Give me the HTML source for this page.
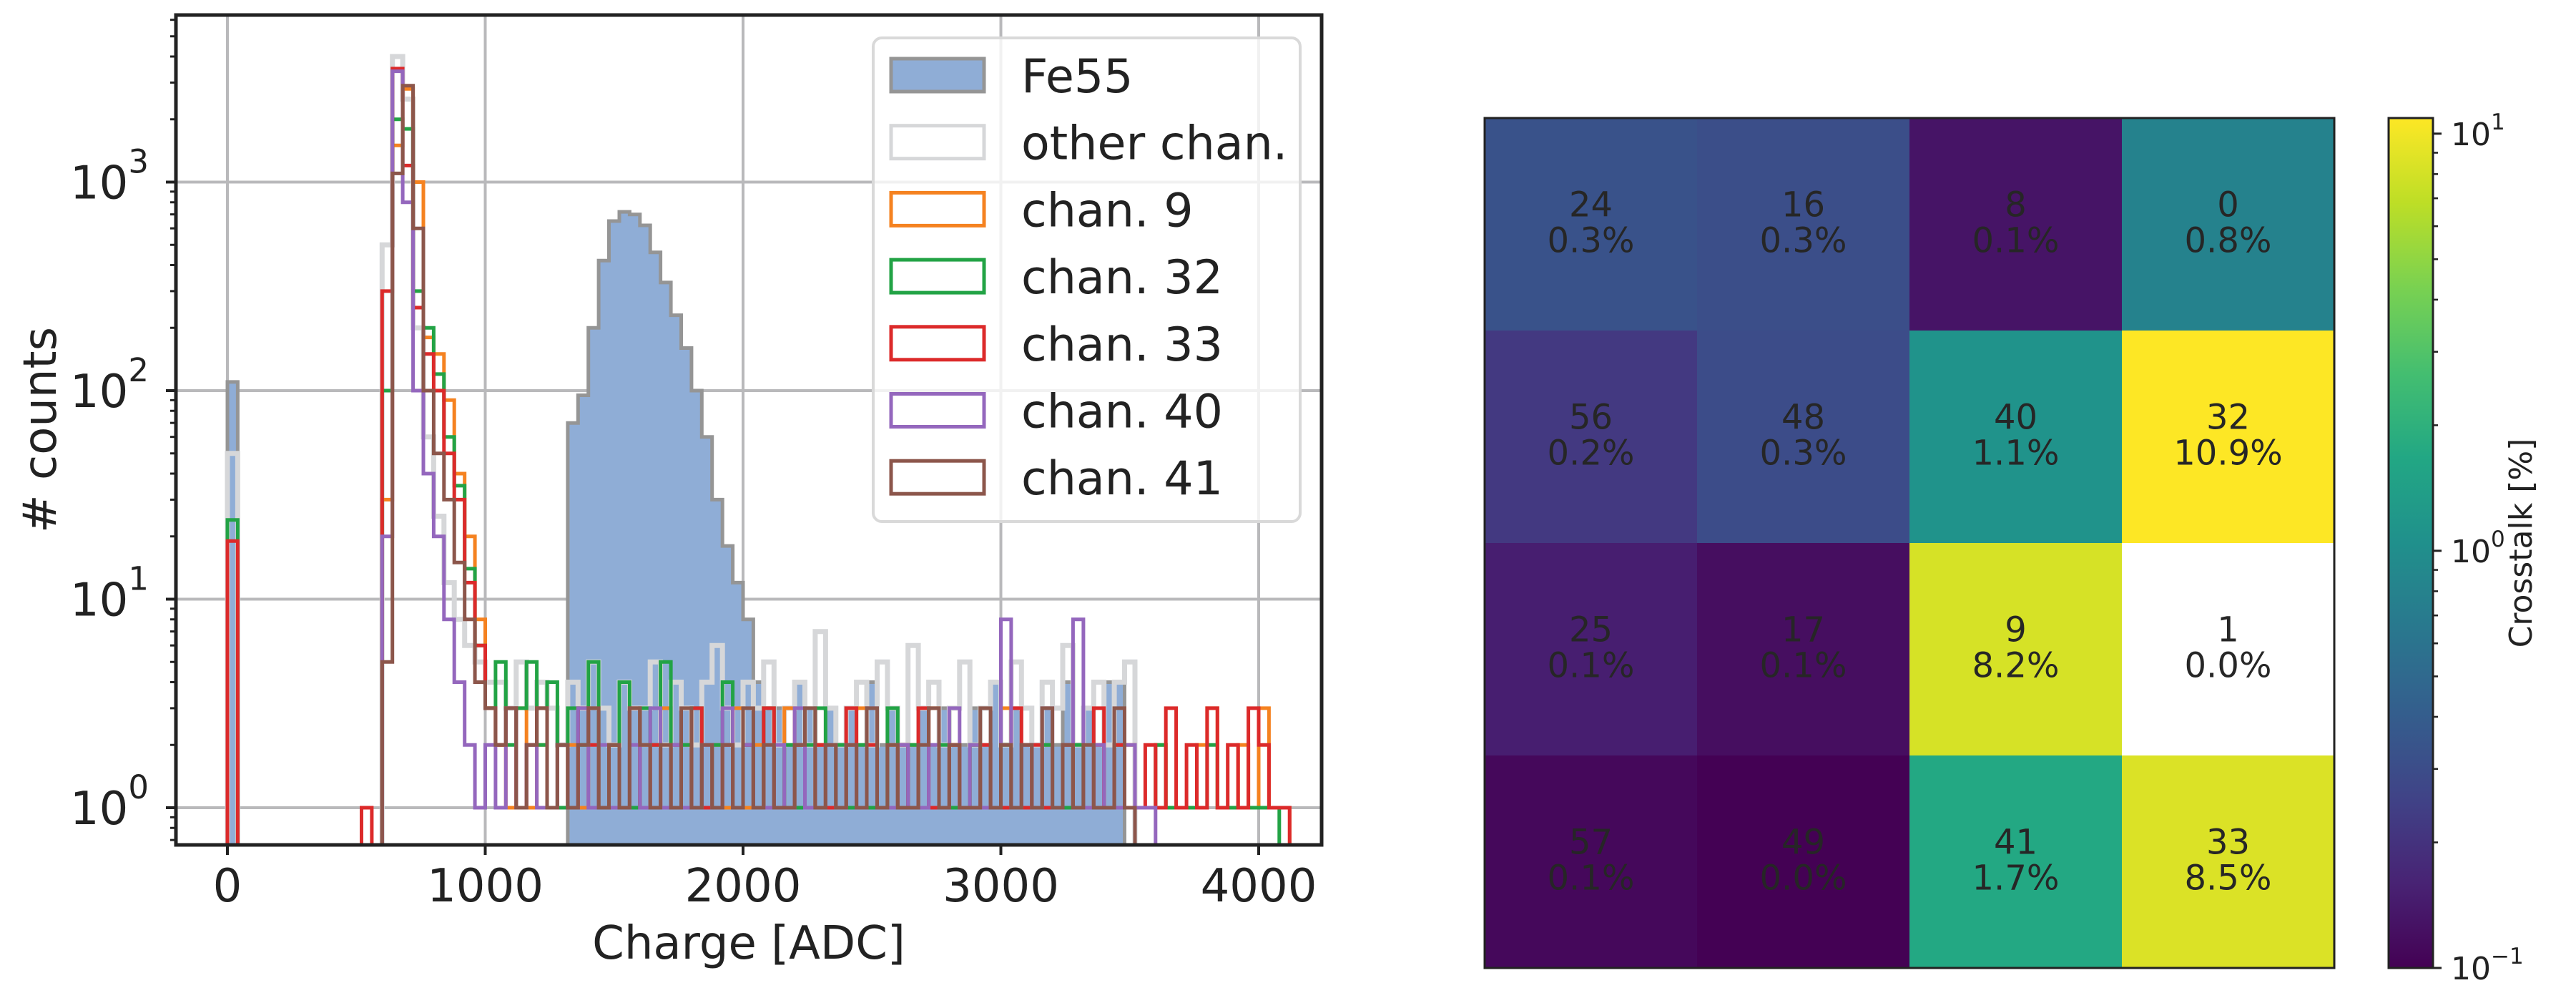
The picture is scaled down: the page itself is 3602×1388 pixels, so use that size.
<!DOCTYPE html>
<html><head><meta charset="utf-8"><style>
html,body{margin:0;padding:0;background:#fff}
svg{display:block;font-family:"DejaVu Sans","Liberation Sans",sans-serif}
</style></head><body>
<svg id="fig" width="3602" height="1388" viewBox="0 0 3602 1388" xmlns="http://www.w3.org/2000/svg">
<defs><clipPath id="clipL"><rect x="246" y="21" width="1602" height="1160"/></clipPath></defs>
<rect width="3602" height="1388" fill="#fff"/>
<g id="hist"></g>
<g id="heat"></g>
</svg>
<script>
// ---------- histogram data (bin width 40 ADC, starting at 0) ----------
const binWidth = 40;
const xTicks = [0, 1000, 2000, 3000, 4000];
const yTickExp = [0, 1, 2, 3];
const fe55 = [110,0,0,0,0,0,0,0,0,0, 0,0,0,0,0,0,0,0,0,0, 0,0,0,0,0,0,0,0,0,0, 0,0,0,70,95,200,420,650,720,700, 620,460,330,230,160,100,60,30,18,12, 8,4,3,3,2,4,3,2,3,2, 3,2,4,2,3,2,2,3,2,3, 2,2,3,2,4,2,3,2,2,3, 2,4,2,3,2,4,4,0,0,0, 0,0,0,0,0,0,0,0,0,0, 0,0,0];
const otherChan = [50,0,0,0,0,0,0,0,0,0, 0,0,0,0,0,500,4000,2500,200,60, 25,12,8,6,5,4,4,3,5,3, 4,3,2,4,3,5,3,2,4,3, 3,5,2,4,3,2,4,6,3,2, 4,3,5,2,3,4,2,7,3,2, 3,4,2,5,3,2,6,3,4,2, 3,5,2,3,4,2,5,3,2,4, 3,6,2,3,4,2,4,5,0,0, 0,0,0,0,0,0,0,0,0,0, 0,0,0];
const chan9 = [0,0,0,0,0,0,0,0,0,0, 0,0,0,0,0,30,1500,2800,1000,180, 150,90,40,20,8,3,2,1,3,1, 2,1,1,2,1,3,1,2,1,1, 2,1,3,1,2,1,1,2,1,3, 1,2,1,1,3,2,1,2,1,1, 2,3,1,1,2,1,2,1,3,1, 2,1,2,1,1,3,1,2,1,2, 1,2,1,1,2,1,1,2,1,1, 2,1,1,1,2,3,1,1,2,1, 3,1,1];
const chan32 = [24,0,0,0,0,0,0,0,0,0, 0,0,0,0,0,100,2000,1800,300,200, 120,60,35,14,6,3,5,2,3,5, 2,4,1,3,2,5,1,2,4,1, 3,2,5,1,2,3,1,2,4,1, 2,1,3,1,2,1,2,3,1,2, 1,2,1,1,3,1,2,1,1,2, 1,1,2,1,1,2,1,1,1,2, 1,1,2,1,1,1,2,1,1,1, 2,1,1,1,1,2,1,1,1,1, 1,1,0];
const chan33 = [19,0,0,0,0,0,0,0,0,0, 0,0,0,1,0,300,3500,1200,250,150, 100,50,30,12,6,3,2,3,1,2, 3,1,2,1,3,2,1,2,1,3, 1,2,1,2,1,3,1,1,2,1, 2,1,3,1,1,2,1,2,1,1, 3,1,2,1,1,2,1,3,1,1, 2,1,1,2,1,1,3,1,2,1, 1,2,1,1,3,1,2,1,1,2, 1,3,1,2,1,3,1,2,1,3, 2,1,1];
const chan40 = [0,0,0,0,0,0,0,0,0,0, 0,0,0,0,0,20,3400,800,100,40, 20,8,4,2,1,2,1,3,1,2, 1,1,2,1,3,1,2,1,1,2, 1,3,1,2,1,1,2,1,3,1, 2,1,1,2,1,3,1,1,2,1, 2,1,3,1,1,2,1,1,2,1, 3,1,2,1,1,8,1,2,1,3, 1,2,8,1,2,1,1,2,1,1, 0,0,0,0,0,0,0,0,0,0, 0,0,0];
const chan41 = [0,0,0,0,0,0,0,0,0,0, 0,0,0,0,0,5,1100,2900,600,100, 50,30,15,8,4,3,2,3,1,2, 3,1,2,1,2,3,1,2,1,3, 2,1,2,1,3,1,2,1,2,1, 3,1,2,1,1,2,3,1,2,1, 2,1,3,1,2,1,1,2,3,1, 2,1,1,3,1,2,1,2,1,3, 1,2,1,2,1,1,3,1,0,0, 0,0,0,0,0,0,0,0,0,0, 0,0,0];
const legendLabels = ["Fe55","other chan.","chan. 9","chan. 32","chan. 33","chan. 40","chan. 41"];

// ---------- heatmap data ----------
const cellChannels = [[24,16,8,0],[56,48,40,32],[25,17,9,1],[57,49,41,33]];
const cellPercent = [[0.33,0.31,0.13,0.8],[0.22,0.3,1.1,10.9],[0.15,0.12,8.2,null],[0.11,0.04,1.7,8.5]];
const cellPercentLabels = [["0.3%","0.3%","0.1%","0.8%"],["0.2%","0.3%","1.1%","10.9%"],["0.1%","0.1%","8.2%","0.0%"],["0.1%","0.0%","1.7%","8.5%"]];
const cbTickExp = [-1, 0, 1];

const NS = "http://www.w3.org/2000/svg";
function mk(tag, attrs, parent, text){
  const e = document.createElementNS(NS, tag);
  for (const k in attrs) e.setAttribute(k, attrs[k]);
  if (text !== undefined) e.textContent = text;
  parent.appendChild(e); return e;
}
// ---------- histogram axes ----------
const L = {left:246, right:1848, top:21, bottom:1181};
const xS = v => 318 + v * 0.3605;
const yS = v => 1129 - Math.log10(v) * 291.5;
const H = document.getElementById('hist');

xTicks.forEach(t => {
  const g = mk('line', {x1:xS(t), x2:xS(t), y1:L.top, y2:L.bottom, stroke:'#b9b9bb', 'stroke-width':4}, H);
  
  
});
yTickExp.forEach(e => {
  const g = mk('line', {x1:L.left, x2:L.right, y1:yS(Math.pow(10,e)), y2:yS(Math.pow(10,e)), stroke:'#b9b9bb', 'stroke-width':4}, H);
  
  
});

function stepPath(arr){
  let d = 'M' + xS(0) + ',' + (L.bottom + 40);
  for (let i = 0; i < arr.length; i++) {
    const y = arr[i] > 0 ? yS(arr[i]) : L.bottom + 40;
    d += ' V' + y.toFixed(1) + ' H' + xS((i + 1) * binWidth).toFixed(1);
  }
  d += ' V' + (L.bottom + 40);
  return d;
}
const plotG = mk('g', {'clip-path':'url(#clipL)'}, H);


const fe = mk('path', {d:stepPath(fe55)+' Z', fill:'#8fadd6', stroke:'#959595', 'stroke-width':5}, plotG);


const oc = mk('path', {d:stepPath(otherChan), fill:'none', stroke:'#d6d7d9', 'stroke-width':7}, plotG);


const series = [[chan9,'#f58220','chan-9'],[chan32,'#22a345','chan-32'],[chan33,'#dc2a2a','chan-33'],[chan40,'#9467bd','chan-40'],[chan41,'#8c564b','chan-41']];
series.forEach(s => {
  const p = mk('path', {d:stepPath(s[0]), fill:'none', stroke:s[1], 'stroke-width':5}, plotG);
  
  
});

const frame = mk('rect', {x:L.left, y:L.top, width:L.right-L.left, height:L.bottom-L.top, fill:'none', stroke:'#222', 'stroke-width':5}, H);



xTicks.forEach(t => {
  mk('line', {x1:xS(t), x2:xS(t), y1:L.bottom, y2:L.bottom+14, stroke:'#222', 'stroke-width':4}, H);
  const tl = mk('text', {x:xS(t), y:1260, 'font-size':64, 'text-anchor':'middle', fill:'#222'}, H, String(t));
  
  
});
yTickExp.forEach(e => {
  const y = yS(Math.pow(10,e));
  mk('line', {x1:L.left-14, x2:L.left, y1:y, y2:y, stroke:'#222', 'stroke-width':4}, H);
  const tl = mk('text', {x:208, y:y+23, 'font-size':64, 'text-anchor':'end', fill:'#222'}, H);
  
  
  mk('tspan', {}, tl, '10');
  mk('tspan', {'font-size':45, dy:-36}, tl, String(e));
});
for (let e = -1; e <= 3; e++) for (let m = 2; m <= 9; m++) {
  const v = m * Math.pow(10, e), y = yS(v);
  if (y < L.top || y > L.bottom) continue;
  mk('line', {x1:L.left-8, x2:L.left, y1:y, y2:y, stroke:'#222', 'stroke-width':3}, H);
}
const xl = mk('text', {x:1047, y:1340, 'font-size':64, 'text-anchor':'middle', fill:'#222'}, H, 'Charge [ADC]');


const yl = mk('text', {x:0, y:0, 'font-size':64, 'text-anchor':'middle', fill:'#222', transform:'translate(78,601) rotate(-90)'}, H, '# counts');



const lg = mk('g', {}, H);


mk('rect', {x:1221, y:53, width:597, height:676, rx:12, fill:'#fff', 'fill-opacity':0.8, stroke:'#d9d9d9', 'stroke-width':4}, lg);
const lgStyles = [['#8fadd6','#959595'],['none','#d6d7d9'],['none','#f58220'],['none','#22a345'],['none','#dc2a2a'],['none','#9467bd'],['none','#8c564b']];
legendLabels.forEach((lab, i) => {
  const cy = 105 + i * 93.7;
  const eg = mk('g', {}, lg);
  
  
  mk('rect', {x:1246, y:cy-23, width:130, height:46, fill:lgStyles[i][0], stroke:lgStyles[i][1], 'stroke-width':5}, eg);
  mk('text', {x:1428, y:cy+24, 'font-size':65, fill:'#222'}, eg, lab);
});

// ---------- heatmap ----------
const HM = document.getElementById('heat');
const hx0 = 2076, hy0 = 165, cell = 297;
const vir = [[68,1,84],[72,35,116],[64,67,135],[52,94,141],[41,120,142],[32,144,140],[34,167,132],[68,190,112],[121,209,81],[189,222,38],[253,231,37]];
function viridis(t){
  t = Math.max(0, Math.min(1, t));
  const f = t * (vir.length - 1), i = Math.min(Math.floor(f), vir.length - 2), r = f - i;
  const c = vir[i].map((a, k) => Math.round(a + (vir[i+1][k] - a) * r));
  return 'rgb(' + c.join(',') + ')';
}
const vmin = 0.1, vmax = 10.9;
const norm = v => (Math.log10(v) - Math.log10(vmin)) / (Math.log10(vmax) - Math.log10(vmin));
cellPercent.forEach((row, r) => row.forEach((v, c) => {
  const x = hx0 + c * cell, y = hy0 + r * cell;
  const rc = mk('rect', {x:x, y:y, width:cell+0.5, height:cell+0.5, fill: v === null ? '#ffffff' : viridis(norm(v))}, HM);
  
  
  const t1 = mk('text', {x:x+cell/2, y:y+cell/2-11, 'font-size':48, 'text-anchor':'middle', fill:'#262626'}, HM, String(cellChannels[r][c]));
  
  
  const t2 = mk('text', {x:x+cell/2, y:y+cell/2+39, 'font-size':48, 'text-anchor':'middle', fill:'#262626'}, HM, cellPercentLabels[r][c]);
  
  
}));
const hf = mk('rect', {x:hx0, y:hy0, width:cell*4, height:cell*4, fill:'none', stroke:'#222', 'stroke-width':3}, HM);



const cbx = 3340, cbw = 62, cbTop = 165, cbBot = 165 + cell*4;
const cbY = v => cbBot - norm(v) * (cbBot - cbTop);
const grad = mk('linearGradient', {id:'cbg', x1:0, y1:1, x2:0, y2:0}, document.querySelector('defs'));
for (let i = 0; i <= 20; i++) mk('stop', {offset:(i/20), 'stop-color':viridis(i/20)}, grad);
const cb = mk('rect', {x:cbx, y:cbTop, width:cbw, height:cbBot-cbTop, fill:'url(#cbg)', stroke:'#222', 'stroke-width':3}, HM);


cbTickExp.forEach(e => {
  const y = cbY(Math.pow(10, e));
  mk('line', {x1:cbx+cbw, x2:cbx+cbw+12, y1:y, y2:y, stroke:'#222', 'stroke-width':3}, HM);
  const t = mk('text', {x:3427, y:y+16, 'font-size':44, fill:'#222'}, HM);
  
  
  mk('tspan', {}, t, '10');
  mk('tspan', {'font-size':31, dy:-22}, t, String(e).replace('-', '\u2212'));
});
for (let e = -1; e <= 1; e++) for (let m = 2; m <= 9; m++) {
  const v = m * Math.pow(10, e);
  if (v > vmax) continue;
  const y = cbY(v);
  mk('line', {x1:cbx+cbw, x2:cbx+cbw+7, y1:y, y2:y, stroke:'#222', 'stroke-width':2.5}, HM);
}
const cbl = mk('text', {x:0, y:0, 'font-size':44, 'text-anchor':'middle', fill:'#222', transform:'translate(3540,759) rotate(-90)'}, HM, 'Crosstalk [%]');


</script>
</body></html>
